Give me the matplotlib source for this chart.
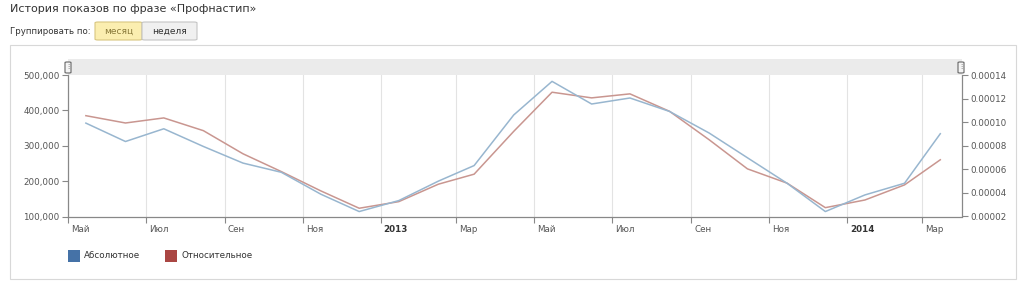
import datetime as dt
import matplotlib
matplotlib.use("Agg")
import matplotlib.pyplot as plt
import matplotlib.dates as mdates
from matplotlib.patches import Rectangle, FancyBboxPatch
from matplotlib.ticker import FuncFormatter

# monthly data, May 2012 .. Mar 2014 (plotted mid-month)
months = [(2012, m) for m in range(5, 13)] + [(2013, m) for m in range(1, 13)] + [(2014, m) for m in range(1, 4)]
absolute = [364000, 312000, 348000, 298000, 251000, 225000, 163000, 114000,
            145000, 200000, 244000, 387000, 482000, 418000, 435000, 397000,
            336000, 266000, 194000, 114000, 161000, 194000, 334000]
relative = [0.0001055, 0.0000993, 0.0001036, 0.0000928, 0.0000732, 0.0000581, 0.0000417, 0.0000270,
            0.0000326, 0.0000474, 0.0000559, 0.0000922, 0.0001254, 0.0001206, 0.0001240, 0.0001092,
            0.0000851, 0.0000604, 0.0000483, 0.0000275, 0.0000340, 0.0000468, 0.0000681]
tick_months = [(2012, 5), (2012, 7), (2012, 9), (2012, 11), (2013, 1), (2013, 3),
               (2013, 5), (2013, 7), (2013, 9), (2013, 11), (2014, 1), (2014, 3)]
month_names = {1: "", 3: "Мар", 5: "Май", 7: "Июл", 9: "Сен", 11: "Ноя"}
series_names = ["Абсолютное", "Относительное"]

W, H = 1024, 287
fig = plt.figure(figsize=(W / 100, H / 100), dpi=100)
fig.patch.set_facecolor("white")


def fx(px):
    return px / W


def fy(py):
    return 1 - py / H


# header
fig.text(fx(10), fy(9), "История показов по фразе «Профнастип»", fontsize=8, color="#333333", va="center")
fig.text(fx(10), fy(31), "Группировать по:", fontsize=6.2, color="#333333", va="center")
fig.patches.append(FancyBboxPatch((fx(95), fy(40)), fx(47), 18 / H, boxstyle="round,pad=0,rounding_size=0.003",
                                  transform=fig.transFigure, facecolor="#fbeeb0", edgecolor="#d8c680", lw=0.8))
fig.patches.append(FancyBboxPatch((fx(142), fy(40)), fx(55), 18 / H, boxstyle="round,pad=0,rounding_size=0.003",
                                  transform=fig.transFigure, facecolor="#f0f0f0", edgecolor="#c4c4c4", lw=0.8))
fig.text(fx(118.5), fy(31), "месяц", fontsize=6.5, color="#8a7a3a", ha="center", va="center")
fig.text(fx(169.5), fy(31), "неделя", fontsize=6.5, color="#333333", ha="center", va="center")

# panel frame
fig.patches.append(Rectangle((fx(10), fy(279)), fx(1006), 234 / H, transform=fig.transFigure,
                             facecolor="white", edgecolor="#d8d8d8", lw=0.8, zorder=-5))
# navigator band
fig.patches.append(Rectangle((fx(68), fy(75)), fx(894), 16 / H, transform=fig.transFigure,
                             facecolor="#ebebeb", edgecolor="none", zorder=1))
for hx in (68, 961):
    fig.patches.append(FancyBboxPatch((fx(hx - 3), fy(73)), fx(6), 11 / H, boxstyle="round,pad=0,rounding_size=0.002",
                                      transform=fig.transFigure, facecolor="#f4f4f4", edgecolor="#666666", lw=0.8, zorder=2))
    fig.text(fx(hx), fy(67.5), "⁝", fontsize=5, color="#666666", ha="center", va="center", zorder=3)

ax = fig.add_axes([fx(68), fy(216.5), fx(894), 141.5 / H])
ax2 = ax.twinx()
ax2.set_zorder(1)
ax.set_zorder(2)
ax.patch.set_visible(False)
ax2.patch.set_visible(False)

dates = [dt.date(y, m, 15) for y, m in months]
ax.plot(dates, absolute, color="#98b6cf", lw=1.1)
ax2.plot(dates, relative, color="#c99690", lw=1.1)

ax.set_xlim(dt.date(2012, 5, 1), dt.date(2014, 4, 1))
ax.set_ylim(100000, 500000)
ax2.set_ylim(0.00002, 0.00014)

ticks = [dt.date(y, m, 1) for y, m in tick_months]
ax.set_xticks(ticks)
ax.set_xticklabels([])
for (y, m), t in zip(tick_months, ticks):
    bold = m == 1
    label = str(y) if bold else month_names[m]
    ax.annotate(label, (mdates.date2num(t), 0), xycoords=("data", "axes fraction"),
                xytext=(2, -6), textcoords="offset points", ha="left", va="top",
                fontsize=6.3, color="#333333" if bold else "#555555",
                fontweight="bold" if bold else "normal")
    ax2.axvline(t, color="#e3e3e3", lw=0.8, zorder=0)

ax.set_yticks([100000, 200000, 300000, 400000, 500000])
ax.yaxis.set_major_formatter(FuncFormatter(lambda v, p: f"{int(v):,}"))
ax2.set_yticks([0.00002, 0.00004, 0.00006, 0.00008, 0.0001, 0.00012, 0.00014])
ax2.yaxis.set_major_formatter(FuncFormatter(lambda v, p: f"{v:.5f}"))

for a in (ax, ax2):
    for s in a.spines.values():
        s.set_visible(False)
    a.tick_params(labelsize=6.3, labelcolor="#555555", color="#888888", length=4, width=0.8)
ax.spines["left"].set_visible(True)
ax.spines["bottom"].set_visible(True)
ax2.spines["right"].set_visible(True)
for s in (ax.spines["left"], ax.spines["bottom"], ax2.spines["right"]):
    s.set_color("#888888")
    s.set_linewidth(0.9)
ax.tick_params(axis="y", length=4, pad=2)
ax2.tick_params(axis="y", length=4, pad=2)
ax.tick_params(axis="x", length=4)

# legend
for lx, col, name in [(68, "#4572a7", series_names[0]), (165, "#aa4643", series_names[1])]:
    fig.patches.append(Rectangle((fx(lx), fy(262)), fx(12), 12 / H, transform=fig.transFigure,
                                 facecolor=col, edgecolor="none"))
    fig.text(fx(lx + 16), fy(256), name, fontsize=6.3, color="#333333", va="center")

fig.savefig("out.png", dpi=100)
